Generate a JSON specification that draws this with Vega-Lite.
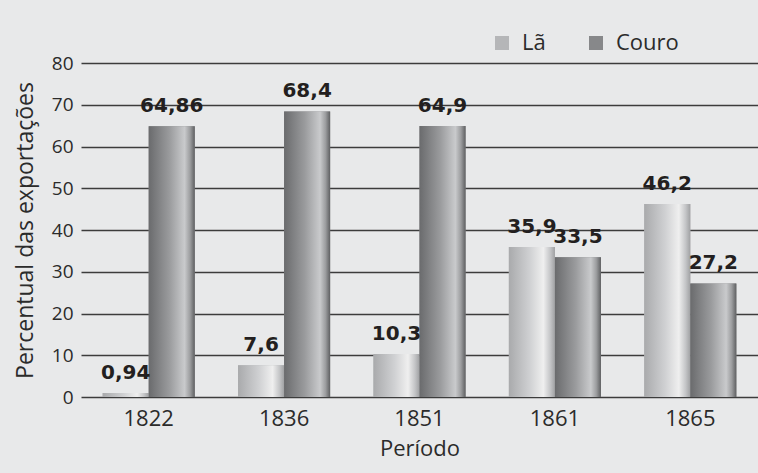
{
  "$schema": "https://vega.github.io/schema/vega-lite/v6.json",
  "width": 677,
  "height": 334,
  "autosize": "none",
  "padding": {"left": 81, "top": 63, "right": 0, "bottom": 76},
  "background": "#e8e9ea",
  "config": {
    "font": "Open Sans",
    "view": {"stroke": null},
    "locale": {
      "number": {"decimal": ",", "thousands": ".", "grouping": [3], "currency": ["R$", ""]}
    }
  },
  "data": {
    "values": [
      {"periodo": "1822", "serie": "Lã", "valor": 0.94},
      {"periodo": "1822", "serie": "Couro", "valor": 64.86},
      {"periodo": "1836", "serie": "Lã", "valor": 7.6},
      {"periodo": "1836", "serie": "Couro", "valor": 68.4},
      {"periodo": "1851", "serie": "Lã", "valor": 10.3},
      {"periodo": "1851", "serie": "Couro", "valor": 64.9},
      {"periodo": "1861", "serie": "Lã", "valor": 35.9},
      {"periodo": "1861", "serie": "Couro", "valor": 33.5},
      {"periodo": "1865", "serie": "Lã", "valor": 46.2},
      {"periodo": "1865", "serie": "Couro", "valor": 27.2}
    ]
  },
  "encoding": {
    "x": {
      "field": "periodo",
      "type": "nominal",
      "scale": {"paddingInner": 0.32, "paddingOuter": 0.16},
      "axis": {
        "title": "Período",
        "labelAngle": 0,
        "labelFontSize": 22,
        "labelColor": "#2b2b2b",
        "labelPadding": 11,
        "titleFontSize": 22,
        "titleFontWeight": "normal",
        "titleColor": "#2b2b2b",
        "titlePadding": 9,
        "domain": false,
        "ticks": false
      }
    },
    "xOffset": {
      "field": "serie",
      "type": "nominal",
      "sort": ["Lã", "Couro"],
      "scale": {"paddingInner": 0, "paddingOuter": 0}
    },
    "y": {
      "field": "valor",
      "type": "quantitative",
      "scale": {"domain": [0, 80]},
      "axis": {
        "title": "Percentual das exportações",
        "values": [0, 10, 20, 30, 40, 50, 60, 70, 80],
        "grid": true,
        "gridColor": "#3c3c3c",
        "gridWidth": 1.5,
        "domain": false,
        "ticks": false,
        "labelFontSize": 19,
        "labelColor": "#2b2b2b",
        "labelPadding": 8,
        "titleFontSize": 23,
        "titleFontWeight": "normal",
        "titleColor": "#2b2b2b",
        "titlePadding": 14
      }
    }
  },
  "layer": [
    {
      "mark": {"type": "bar"},
      "encoding": {
        "color": {
          "field": "serie",
          "type": "nominal",
          "sort": ["Lã", "Couro"],
          "scale": {"domain": ["Lã", "Couro"], "range": ["#b5b6b8", "#87888a"]},
          "legend": {
            "title": null,
            "orient": "none",
            "direction": "horizontal",
            "legendX": 410,
            "legendY": -31,
            "symbolType": "square",
            "symbolSize": 196,
            "symbolStrokeWidth": 0,
            "symbolOpacity": 1,
            "labelFontSize": 22,
            "labelColor": "#2b2b2b",
            "labelOffset": 9,
            "columnPadding": 39
          }
        }
      }
    },
    {
      "transform": [{"filter": "datum.serie === 'Lã'"}],
      "mark": {
        "type": "bar",
        "color": {
          "gradient": "linear",
          "x1": 0, "y1": 0, "x2": 1, "y2": 0,
          "stops": [
            {"offset": 0, "color": "#a9aaac"},
            {"offset": 0.45, "color": "#cfd0d2"},
            {"offset": 0.75, "color": "#efefef"},
            {"offset": 0.9, "color": "#c4c5c7"},
            {"offset": 1, "color": "#a0a1a3"}
          ]
        }
      }
    },
    {
      "transform": [{"filter": "datum.serie === 'Couro'"}],
      "mark": {
        "type": "bar",
        "color": {
          "gradient": "linear",
          "x1": 0, "y1": 0, "x2": 1, "y2": 0,
          "stops": [
            {"offset": 0, "color": "#6a6b6d"},
            {"offset": 0.45, "color": "#9a9b9d"},
            {"offset": 0.78, "color": "#c9cacc"},
            {"offset": 0.9, "color": "#9c9d9f"},
            {"offset": 1, "color": "#5f6062"}
          ]
        }
      }
    },
    {
      "mark": {
        "type": "text",
        "baseline": "alphabetic",
        "dy": -14,
        "font": "DejaVu Sans",
        "fontSize": 20,
        "fontWeight": "bold",
        "color": "#231f20"
      },
      "encoding": {
        "text": {"field": "valor", "type": "quantitative", "format": "~g"}
      }
    }
  ]
}
